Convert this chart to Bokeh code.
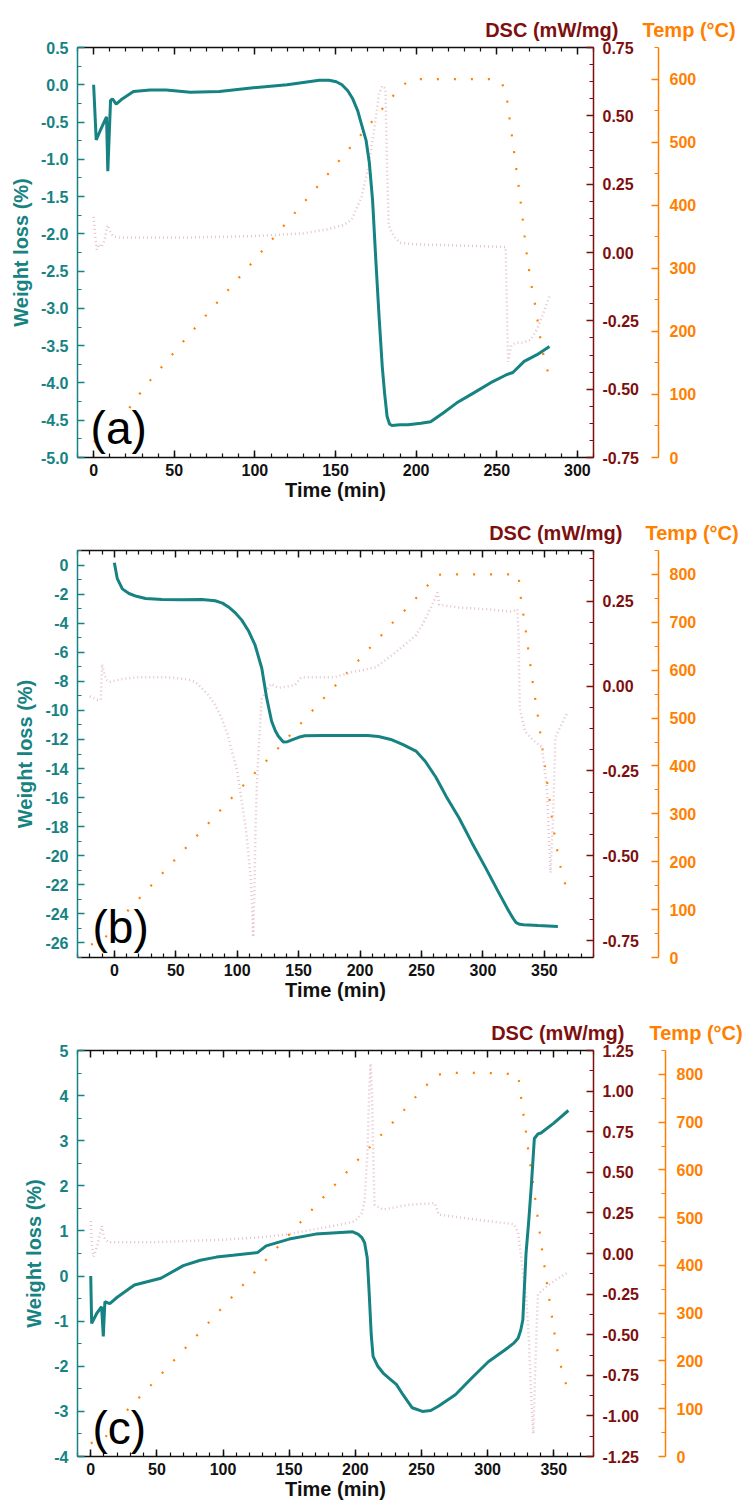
import math
from bokeh.plotting import figure
from bokeh.models import (Range1d, LinearAxis, SingleIntervalTicker, FixedTicker,
                          NumeralTickFormatter, Label)
from bokeh.layouts import column
from bokeh.embed import file_html
from bokeh.resources import INLINE

TEAL = "#168282"
MAROON = "#7d0f0f"
ORANGE = "#ff8000"
PINK = "#e4c3cd"
FONT = "Liberation Sans"

# ---------------- panel (a) data ----------------
a_w_time = [0, 1.6, 4, 8, 8.8, 10.5, 11.7, 14, 17.7, 24.7, 35, 45, 60, 78, 99, 120, 140, 146, 150.5, 154,
            157.6, 160.5, 163.8, 166, 169, 171, 173, 175, 177, 179, 180.5, 182, 183.5, 185, 190, 195, 203,
            209, 217, 225, 236, 246, 256, 260, 267, 275, 282.7]
a_weight = [0.0, -0.74, -0.62, -0.43, -1.16, -0.21, -0.19, -0.26, -0.19, -0.09, -0.07, -0.07, -0.10, -0.09,
            -0.04, 0.0, 0.06, 0.06, 0.04, 0.0, -0.08, -0.18, -0.35, -0.52, -0.75, -1.05, -1.55, -2.35, -3.1,
            -3.78, -4.15, -4.45, -4.55, -4.57, -4.56, -4.56, -4.54, -4.52, -4.40, -4.27, -4.13, -4.0, -3.89,
            -3.86, -3.71, -3.62, -3.51]
a_d_time = [0, 1, 2, 3, 5, 7, 8.5, 10, 12, 15, 30, 60, 100, 130, 145, 155, 160, 166, 170, 174, 177, 179,
            181, 182, 183, 186, 190, 200, 230, 255.5, 256.3, 257, 259, 262, 266, 271, 275, 279, 283]
a_dsc = [0.13, 0.06, 0.01, 0.03, 0.02, 0.05, 0.10, 0.08, 0.06, 0.055, 0.055, 0.055, 0.06, 0.07, 0.085,
         0.10, 0.12, 0.20, 0.30, 0.45, 0.58, 0.61, 0.60, 0.30, 0.10, 0.06, 0.035, 0.03, 0.025, 0.02, -0.2,
         -0.40, -0.34, -0.33, -0.33, -0.32, -0.28, -0.22, -0.155]
a_t_time = [0, 9, 20, 32, 60, 100, 140, 177, 183, 190, 195, 200, 225, 250, 253, 256, 258, 260, 262, 264,
            266, 268, 271, 274, 277.5, 280, 282.5]
a_temp = [25, 33, 71, 113, 197, 314, 433, 546, 566, 585, 597, 600, 600, 600, 595, 575, 536, 499, 460, 422,
          380, 334, 280, 239, 181, 150, 130]

# ---------------- panel (b) data ----------------
b_w_time = [0, 2.4, 6.5, 11.9, 18, 25.4, 38.9, 55, 71.3, 82, 88, 92.9, 98, 103.7, 109, 114.5, 120, 124, 128,
            131, 133.5, 137.5, 141, 144, 150, 155, 170, 190, 206, 215, 225, 235, 245.5, 253, 261.7, 270,
            280.6, 291, 302, 312, 321, 324.5, 327, 330, 333, 345, 361]
b_weight = [0.16, -0.94, -1.64, -1.96, -2.15, -2.3, -2.37, -2.38, -2.37, -2.46, -2.62, -2.88, -3.25, -3.79,
            -4.5, -5.5, -7.1, -9.16, -10.75, -11.4, -11.78, -12.17, -12.15, -12.05, -11.85, -11.75, -11.72,
            -11.73, -11.73, -11.8, -12.0, -12.35, -12.8, -13.5, -14.6, -15.9, -17.4, -19.1, -20.8, -22.4,
            -23.8, -24.3, -24.6, -24.72, -24.75, -24.8, -24.86]
b_d_time = [-20, -14, -11, -10, -7, -4, 5, 17, 44, 60, 66, 71, 76.7, 82, 87.5, 92, 95.6, 100, 103.7, 107,
            109, 111, 112, 113, 114, 115, 116, 118, 120, 124, 128, 133, 137.5, 147, 152, 179, 193, 213, 229,
            245.5, 252, 256, 260, 263, 264.5, 280, 302, 324, 328, 329, 330, 334.6, 341, 348, 352, 355,
            357, 359, 363, 368.4]
b_dsc = [-0.03, -0.04, -0.04, 0.065, 0.02, 0.012, 0.02, 0.026, 0.026, 0.02, 0.012, -0.005, -0.027, -0.055,
         -0.096, -0.14, -0.19, -0.25, -0.34, -0.42, -0.49, -0.57, -0.64, -0.74, -0.60, -0.40, -0.29, -0.15,
         -0.037, -0.01, 0.007, -0.005, -0.003, 0.003, 0.026, 0.026, 0.041, 0.056, 0.10, 0.15, 0.19, 0.22,
         0.25, 0.276, 0.24, 0.232, 0.227, 0.22, 0.227, 0.15, -0.068, -0.135, -0.16, -0.18, -0.30, -0.55,
         -0.40, -0.15, -0.12, -0.08]
b_t_time = [-19, -8.7, -2.7, 5.9, 14.6, 23.5, 32, 60, 100, 130, 170, 217, 226, 235, 244, 253, 258, 262.6,
            266, 300, 329, 330, 332, 334, 337.4, 341, 345, 350.4, 354, 357.4, 362, 365, 369]
b_temp = [27, 36, 60, 84, 108, 132, 156, 234, 346, 428, 540, 672, 698, 721, 746, 771, 786, 798, 800, 800,
          800, 766, 731, 699, 633, 566, 500, 400, 334, 269, 202, 169, 137]

# ---------------- panel (c) data ----------------
c_w_time = [0, 0.7, 4.5, 8.2, 9.5, 10.7, 14.4, 20, 33, 53, 70, 82.8, 95, 107.5, 126, 132.6, 150, 170, 192,
            198, 202, 205, 207, 209, 210.5, 212, 213.4, 217, 221, 226, 231, 236, 243, 250.7, 257, 263,
            275.6, 288, 300.5, 313, 320, 323, 325, 326.6, 329, 331, 333, 335.3, 338, 340.3, 350, 361]
c_weight = [0.0, -1.05, -0.83, -0.68, -1.34, -0.57, -0.61, -0.47, -0.2, -0.05, 0.23, 0.35, 0.42, 0.46,
            0.52, 0.67, 0.82, 0.93, 0.97, 0.98, 0.93, 0.85, 0.74, 0.4, -0.4, -1.3, -1.78, -2.0, -2.15,
            -2.28, -2.4, -2.63, -2.92, -3.0, -2.98, -2.88, -2.63, -2.26, -1.9, -1.64, -1.48, -1.38, -1.2,
            -0.97, 0.5, 1.2, 2.0, 3.05, 3.15, 3.17, 3.39, 3.67]
c_d_time = [0, 1, 2, 3, 5, 7, 8.5, 10, 13, 50, 100, 130, 150, 170, 190, 200, 205, 207, 209, 210.5, 211.5,
            212.5, 213.5, 214.5, 221, 240, 260, 263, 290, 320, 323, 325, 327, 329, 331, 333, 334.5, 336,
            338, 345, 352, 360]
c_dsc = [0.20, 0.05, -0.02, 0.0, 0.05, 0.12, 0.17, 0.10, 0.07, 0.07, 0.085, 0.10, 0.12, 0.15, 0.18, 0.20,
         0.25, 0.32, 0.60, 1.00, 1.17, 1.00, 0.60, 0.30, 0.27, 0.30, 0.31, 0.24, 0.21, 0.18, 0.13, 0.0,
         -0.15, -0.25, -0.50, -0.90, -1.11, -0.70, -0.25, -0.20, -0.16, -0.12]
c_t_time = [0, 10, 15.7, 24.4, 32.3, 40.5, 48.5, 90, 137.5, 180, 220.4, 228.4, 237, 245, 253, 261, 267,
            273, 300, 323, 324.6, 326, 328, 331, 334.6, 337.8, 341, 344.5, 348, 351.7, 354, 357, 360.7]
c_temp = [28, 35, 61, 87, 111, 135, 158, 283, 427, 555, 676, 700, 726, 751, 775, 798, 802, 803, 803, 800,
          767, 734, 701, 634, 567, 501, 435, 369, 303, 237, 204, 171, 139]

# axis / tick settings
x_tick_interval = 50
x_minor_interval = 10
temp_tick_interval = 100
dsc_tick_interval = 0.25

# page geometry (figure stack starts at page (0, 0)); fl/fr = frame left/right in page px
panels = [
    dict(letter="(a)", h=504, top=47, bottom=47, left=77, right=157, fl=77, fr=593,
         xr=(-10, 310), yr=(-5.0, 0.5), dr=(-0.75, 0.75), tr=(0, 650),
         yint=0.5, yfmt="0.0", dminor=4, gap_std=3, dsc_dx=25, temp_dx=49,
         wt=a_w_time, w=a_weight, dt=a_d_time, d=a_dsc, tt=a_t_time, t=a_temp,
         letter_pos=(-1.9, -4.6)),
    dict(letter="(b)", h=500, top=46, bottom=47, left=75, right=156, fl=75, fr=594,
         xr=(-30, 390), yr=(-27, 1), dr=(-0.8, 0.4), tr=(0, 850),
         yint=2, yfmt="0", dminor=4, gap_std=3, dsc_dx=26, temp_dx=49,
         wt=b_w_time, w=b_weight, dt=b_d_time, d=b_dsc, tt=b_t_time, t=b_temp,
         letter_pos=(-17.8, -24.9)),
    dict(letter="(c)", h=499, top=46, bottom=47, left=76, right=152, fl=76, fr=598,
         xr=(-10, 380), yr=(-4, 5), dr=(-1.25, 1.25), tr=(0, 850),
         yint=1, yfmt="0", dminor=2, gap_std=10, dsc_dx=25, temp_dx=50,
         wt=c_w_time, w=c_weight, dt=c_d_time, d=c_dsc, tt=c_t_time, t=c_temp,
         letter_pos=(1.3, -3.36)),
]


def style_ticks(ax, color, label_color):
    ax.axis_line_color = color
    ax.axis_line_width = 1.5
    ax.major_tick_line_color = color
    ax.minor_tick_line_color = color
    ax.major_tick_line_width = 1.5
    ax.minor_tick_line_width = 1.2
    ax.major_tick_in = 7
    ax.major_tick_out = 0
    ax.minor_tick_in = 4
    ax.minor_tick_out = 0
    ax.major_label_text_font = FONT
    ax.major_label_text_font_style = "bold"
    ax.major_label_text_font_size = "16px"
    ax.major_label_text_color = label_color


def tick_positions(lo, hi, step):
    start = math.ceil(lo / step) * step
    out = []
    v = start
    while v <= hi + 1e-9:
        out.append(v)
        v += step
    return out


figs = []
for c in panels:
    p = figure(width=750, height=c["h"], output_backend="svg", toolbar_location=None,
               x_range=Range1d(*c["xr"]), y_range=Range1d(*c["yr"]),
               min_border_left=c["left"], min_border_right=c["right"],
               min_border_top=c["top"], min_border_bottom=c["bottom"])
    p.extra_y_ranges = {"dsc": Range1d(*c["dr"]), "temp": Range1d(*c["tr"])}
    p.xgrid.visible = False
    p.ygrid.visible = False
    p.outline_line_color = None
    p.background_fill_color = "white"
    p.border_fill_color = "white"

    # bottom axis
    xa = p.xaxis[0]
    xa.ticker = SingleIntervalTicker(interval=x_tick_interval, num_minor_ticks=5)
    style_ticks(xa, "#111111", "#111111")
    xa.major_label_standoff = 6
    xa.axis_label = "Time (min)"
    xa.axis_label_text_font = FONT
    xa.axis_label_text_font_style = "bold"
    xa.axis_label_text_font_size = "20px"
    xa.axis_label_text_color = "#111111"
    xa.axis_label_standoff = 0

    # top axis: ticks only (long ticks at majors, short at minors), no labels
    majors = tick_positions(c["xr"][0], c["xr"][1], x_tick_interval)
    minors = [v for v in tick_positions(c["xr"][0], c["xr"][1], x_minor_interval) if v not in majors]
    for ticks_list, length, line_col in ((minors, 4, "#111111"), (majors, 7, None)):
        ta = LinearAxis(ticker=FixedTicker(ticks=[], minor_ticks=ticks_list))
        style_ticks(ta, "#111111", "#111111")
        ta.axis_line_color = line_col
        ta.minor_tick_in = length
        ta.minor_tick_line_width = 1.5 if length == 7 else 1.2
        ta.major_label_standoff = 0
        p.add_layout(ta, "above")

    # left axis
    ya = p.yaxis[0]
    ya.ticker = SingleIntervalTicker(interval=c["yint"], num_minor_ticks=2)
    ya.formatter = NumeralTickFormatter(format=c["yfmt"])
    style_ticks(ya, TEAL, TEAL)
    ya.major_label_standoff = 9
    ya.axis_label = "Weight loss (%)"
    ya.axis_label_text_font = FONT
    ya.axis_label_text_font_style = "bold"
    ya.axis_label_text_font_size = "20px"
    ya.axis_label_text_color = TEAL
    ya.axis_label_standoff = 6

    # DSC axis
    da = LinearAxis(y_range_name="dsc",
                    ticker=SingleIntervalTicker(interval=dsc_tick_interval, num_minor_ticks=c["dminor"]),
                    formatter=NumeralTickFormatter(format="0.00"))
    style_ticks(da, MAROON, MAROON)
    da.major_label_standoff = 9
    da.axis_label = " "
    da.axis_label_text_font_size = "10px"
    da.axis_label_standoff = c["gap_std"]
    p.add_layout(da, "right")

    # Temp axis
    tx = LinearAxis(y_range_name="temp",
                    ticker=SingleIntervalTicker(interval=temp_tick_interval, num_minor_ticks=2),
                    formatter=NumeralTickFormatter(format="0"))
    style_ticks(tx, ORANGE, ORANGE)
    tx.major_label_standoff = 11
    p.add_layout(tx, "right")

    # series
    p.line(c["tt"], c["t"], y_range_name="temp", line_color=ORANGE, line_width=2.2, line_dash="2 15")
    p.line(c["dt"], c["d"], y_range_name="dsc", line_color=PINK, line_width=2.5, line_dash="1 3")
    p.line(c["wt"], c["w"], line_color=TEAL, line_width=3)

    # axis titles at top right, placed in the "above" side panel (stacked slots)
    title_specs = [("DSC (mW/mg)", MAROON, "right", c["fr"] + c["dsc_dx"], 18),
                   ("Temp (\u00b0C)", ORANGE, "left", c["fr"] + c["temp_dx"], -4)]
    for txt, col, align, xpx, ypx in title_specs:
        p.add_layout(Label(x=xpx - c["fl"], y=ypx, x_units="screen", y_units="screen",
                           text=txt, text_align=align, text_baseline="alphabetic", text_font=FONT,
                           text_font_style="bold", text_font_size="20px", text_color=col), "above")

    # panel letter
    p.add_layout(Label(x=c["letter_pos"][0], y=c["letter_pos"][1], text=c["letter"], text_align="left",
                       text_baseline="alphabetic", text_font=FONT, text_font_size="46px",
                       text_color="black"))
    figs.append(p)

layout = column(*figs, spacing=0)
open("out.html", "w").write(file_html(layout, INLINE))
